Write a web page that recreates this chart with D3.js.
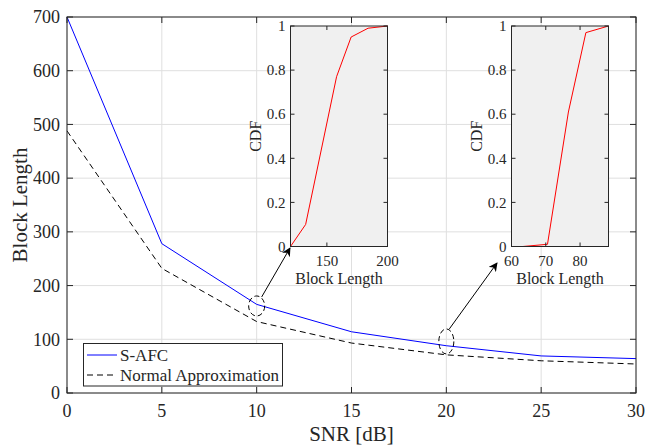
<!DOCTYPE html>
<html>
<head>
<meta charset="utf-8">
<script src="https://cdn.jsdelivr.net/npm/d3@7"></script>
<style>
  body { margin: 0; background: #fff; }
  text { font-family: "Liberation Serif", "DejaVu Serif", serif; fill: #262626; }
</style>
</head>
<body>
<div id="chart"></div>
<script>
// main curves
const snr = [0, 5, 10, 15, 20, 25, 30];
const safc = [700, 278, 165, 114, 88, 69, 64];
const normalApprox = [488, 232, 133, 93, 71, 60, 54];
const yTicks = [0, 100, 200, 300, 400, 500, 600, 700];
const xTicks = [0, 5, 10, 15, 20, 25, 30];

// inset CDFs
const cdf10x = [120, 132.5, 158, 170, 184, 200];
const cdf10y = [0, 0.1, 0.77, 0.95, 0.99, 1];
const cdf20x = [63.3, 70.5, 76.6, 81.7, 88.3];
const cdf20y = [0, 0.01, 0.61, 0.97, 1];
const cdfTicks = [0, 0.2, 0.4, 0.6, 0.8, 1];

const W = 655, H = 445;
const svg = d3.select("#chart").append("svg").attr("width", W).attr("height", H);

const margin = {left: 67, right: 19, top: 17, bottom: 52};
const x = d3.scaleLinear().domain([0, 30]).range([margin.left, W - margin.right]);
const y = d3.scaleLinear().domain([0, 700]).range([H - margin.bottom, margin.top]);
const axisCol = "#262626";

// grid
svg.append("g").selectAll("line").data(xTicks).enter().append("line")
    .attr("x1", d => x(d)).attr("x2", d => x(d))
    .attr("y1", y(0)).attr("y2", y(700))
    .attr("stroke", "#dfdfdf").attr("stroke-width", 1);
svg.append("g").selectAll("line").data(yTicks).enter().append("line")
    .attr("x1", x(0)).attr("x2", x(30))
    .attr("y1", d => y(d)).attr("y2", d => y(d))
    .attr("stroke", "#dfdfdf").attr("stroke-width", 1);

// axes box with inward ticks on all sides
function boxAxes(g, xs, ys, xt, yt, tickLen, fs, xoff, yoff) {
    let [x0, x1] = xs.range(), [y0, y1] = ys.range();
    g.append("rect").attr("x", x0).attr("y", y1).attr("width", x1 - x0).attr("height", y0 - y1)
        .attr("fill", "none").attr("stroke", axisCol).attr("stroke-width", 1);
    xt.forEach(t => {
        g.append("line").attr("x1", xs(t)).attr("x2", xs(t)).attr("y1", y0).attr("y2", y0 - tickLen).attr("stroke", axisCol);
        g.append("line").attr("x1", xs(t)).attr("x2", xs(t)).attr("y1", y1).attr("y2", y1 + tickLen).attr("stroke", axisCol);
        g.append("text").attr("x", xs(t)).attr("y", y0 + xoff).attr("text-anchor", "middle")
            .attr("font-size", fs).text(t);
    });
    yt.forEach(t => {
        g.append("line").attr("x1", x0).attr("x2", x0 + tickLen).attr("y1", ys(t)).attr("y2", ys(t)).attr("stroke", axisCol);
        g.append("line").attr("x1", x1).attr("x2", x1 - tickLen).attr("y1", ys(t)).attr("y2", ys(t)).attr("stroke", axisCol);
        g.append("text").attr("x", x0 - yoff).attr("y", ys(t) + fs * 0.35).attr("text-anchor", "end")
            .attr("font-size", fs).text(t);
    });
}

const line = d3.line().x(d => x(d[0])).y(d => y(d[1]));
svg.append("path").datum(snr.map((s, i) => [s, normalApprox[i]]))
    .attr("d", line).attr("fill", "none").attr("stroke", "#000").attr("stroke-width", 1)
    .attr("stroke-dasharray", "6,4");
svg.append("path").datum(snr.map((s, i) => [s, safc[i]]))
    .attr("d", line).attr("fill", "none").attr("stroke", "#0000ff").attr("stroke-width", 1);

boxAxes(svg.append("g"), x, y, xTicks, yTicks, 6, 18, 24, 7);

svg.append("text").attr("x", (x(0) + x(30)) / 2).attr("y", 441).attr("text-anchor", "middle")
    .attr("font-size", 21).text("SNR [dB]");
svg.append("text").attr("transform", `translate(27,${(y(0) + y(700)) / 2}) rotate(-90)`)
    .attr("text-anchor", "middle").attr("font-size", 21).text("Block Length");

// legend
const lg = svg.append("g");
lg.append("rect").attr("x", 83.5).attr("y", 343.5).attr("width", 199).attr("height", 42.5)
    .attr("fill", "#fff").attr("stroke", axisCol);
lg.append("line").attr("x1", 87).attr("x2", 117).attr("y1", 355).attr("y2", 355).attr("stroke", "#0000ff");
lg.append("line").attr("x1", 87).attr("x2", 117).attr("y1", 375).attr("y2", 375).attr("stroke", "#000")
    .attr("stroke-dasharray", "6,4");
lg.append("text").attr("x", 120).attr("y", 360.5).attr("font-size", 17).attr("fill", "#000").text("S-AFC");
lg.append("text").attr("x", 120).attr("y", 380.5).attr("font-size", 17).attr("fill", "#000").text("Normal Approximation");

// ellipses and arrows
svg.append("defs").append("marker").attr("id", "arr").attr("viewBox", "0 0 10 10")
    .attr("refX", 9).attr("refY", 5).attr("markerWidth", 9).attr("markerHeight", 9).attr("orient", "auto")
    .append("path").attr("d", "M0,0 L10,5 L0,10 L3,5 Z").attr("fill", "#000");

svg.append("ellipse").attr("cx", x(10)).attr("cy", y(162)).attr("rx", 8).attr("ry", 10)
    .attr("fill", "none").attr("stroke", "#000").attr("stroke-dasharray", "5,3");
svg.append("ellipse").attr("cx", x(20)).attr("cy", y(96)).attr("rx", 7.5).attr("ry", 12.5)
    .attr("fill", "none").attr("stroke", "#000").attr("stroke-dasharray", "5,3");
svg.append("line").attr("x1", x(10) + 5).attr("y1", y(162) - 9).attr("x2", 290).attr("y2", 248)
    .attr("stroke", "#000").attr("marker-end", "url(#arr)");
svg.append("line").attr("x1", x(20) + 3).attr("y1", y(96) - 12.5).attr("x2", 497).attr("y2", 263)
    .attr("stroke", "#000").attr("marker-end", "url(#arr)");

// insets
function inset(xr, xd, xt, xs, ys) {
    let ix = d3.scaleLinear().domain(xd).range(xr);
    let iy = d3.scaleLinear().domain([0, 1]).range([246.5, 26]);
    let g = svg.append("g");
    g.append("rect").attr("x", xr[0]).attr("y", 26).attr("width", xr[1] - xr[0]).attr("height", 220.5)
        .attr("fill", "#f0f0f0");
    g.append("path").datum(xs.map((v, i) => [v, ys[i]]))
        .attr("d", d3.line().x(d => ix(d[0])).y(d => iy(d[1])))
        .attr("fill", "none").attr("stroke", "#ff0000").attr("stroke-width", 1);
    boxAxes(g, ix, iy, xt, cdfTicks, 4, 15, 19.5, 5);
    g.append("text").attr("x", (xr[0] + xr[1]) / 2).attr("y", 284).attr("text-anchor", "middle")
        .attr("font-size", 16).text("Block Length");
    g.append("text").attr("transform", `translate(${xr[0] - 30},${iy(0.5)}) rotate(-90)`)
        .attr("text-anchor", "middle").attr("font-size", 16).text("CDF");
}
inset([290.5, 387.5], [120, 200], [150, 200], cdf10x, cdf10y);
inset([511.5, 608.5], [60, 88.3], [60, 70, 80], cdf20x, cdf20y);
</script>
</body>
</html>
